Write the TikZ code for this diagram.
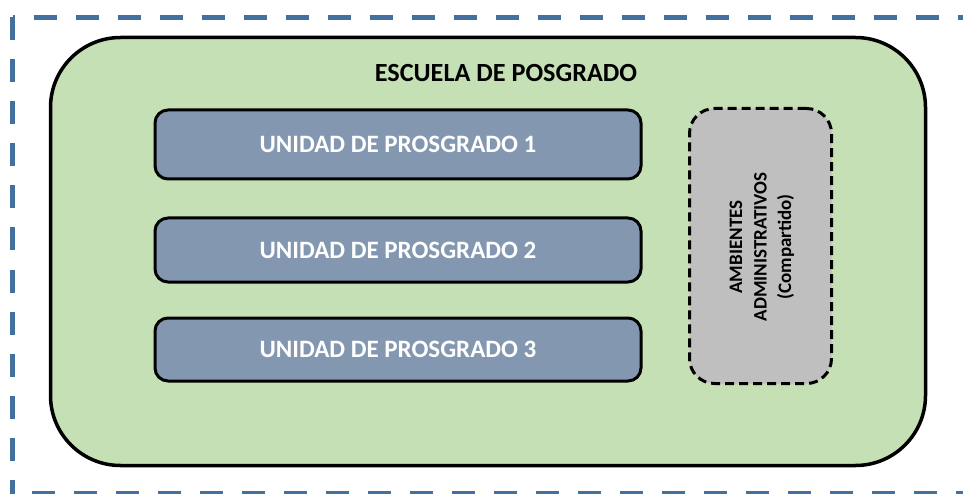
\documentclass[tikz,border=0pt]{standalone}
\usepackage{fontspec}
\setmainfont{Carlito}
\definecolor{framecol}{HTML}{41719C}
\definecolor{greenfill}{HTML}{C5E0B4}
\definecolor{unitfill}{HTML}{8497B0}
\definecolor{grayfill}{HTML}{BFBFBF}
\tikzset{
  schoolbox/.style={draw=black, line width=3.5pt, fill=greenfill, rounded corners=70pt,
    minimum width=875pt, minimum height=428pt, inner sep=0pt},
  unitbox/.style={draw=black, line width=3pt, fill=unitfill, rounded corners=13pt,
    minimum width=486pt, inner sep=0pt, text=white,
    font=\fontsize{25}{30}\selectfont\bfseries},
  adminbox/.style={draw=black, line width=3pt, fill=grayfill, rounded corners=25pt,
    dash pattern=on 9pt off 5pt, minimum width=142pt, minimum height=275pt, inner sep=0pt},
  titletext/.style={font=\fontsize{26.2}{30}\selectfont\bfseries, inner sep=0pt},
  admintext/.style={font=\fontsize{19}{24.5}\selectfont\bfseries, align=center, rotate=90, inner sep=0pt},
  framecolline/.style={draw=framecol, line width=5pt, dash pattern=on 23pt off 19pt}
}
\begin{document}
\begin{tikzpicture}[x=1pt,y=-1pt]
\useasboundingbox (0,0) rectangle (963,494);
% outer dashed frame
\coordinate (tl) at (12.5,17.5);
\coordinate (tr) at (990,17.5);
\coordinate (bl) at (12.5,493.5);
\coordinate (br) at (990,493.5);
\draw[framecolline] (tl) -- (bl);
\draw[framecolline, dash phase=21pt] (tl) -- (tr);
\draw[framecolline, dash phase=23pt] (bl) -- (br);
% school
\node[schoolbox] (school) at (488,251.5) {};
\node[titletext, anchor=base] (title) at (506,82) {ESCUELA DE POSGRADO};
% units
\node[unitbox, minimum height=69pt] (u1) at (398,144.5) {\raisebox{-2.5pt}{UNIDAD DE PROSGRADO 1}};
\node[unitbox, minimum height=64pt] (u2) at (398,250) {\raisebox{-2pt}{UNIDAD DE PROSGRADO 2}};
\node[unitbox, minimum height=63pt] (u3) at (398,349.5) {\raisebox{-2.5pt}{UNIDAD DE PROSGRADO 3}};
% admin
\node[adminbox] (admin) at (760.5,246) {};
\node[admintext] (admintxt) at (762,247) {AMBIENTES\\ADMINISTRATIVOS\\(Compartido)};
\end{tikzpicture}
\end{document}
